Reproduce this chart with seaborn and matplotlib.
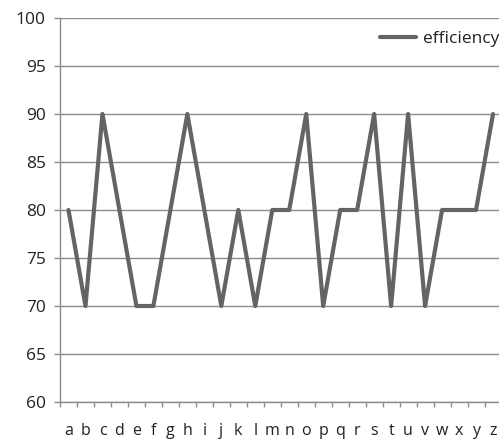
import matplotlib.pyplot as plt
import numpy as np
import pandas as pd
import seaborn as sns
from matplotlib.ticker import FixedLocator

categories = list("abcdefghijklmnopqrstuvwxyz")
efficiency = [80, 70, 90, 80, 70, 70, 80, 90, 80, 70, 80, 70, 80,
              80, 90, 70, 80, 80, 90, 70, 90, 70, 80, 80, 80, 90]
y_ticks = [60, 65, 70, 75, 80, 85, 90, 95, 100]

LINE = "#646464"
GRID = "#8c8c8c"
TEXT = "#222222"

sns.set_style("white")
plt.rcParams["font.family"] = ["Open Sans", "DejaVu Sans"]

df = pd.DataFrame({"letter": categories, "efficiency": efficiency, "pos": np.arange(len(categories))})

fig = plt.figure(figsize=(4.99, 4.41), dpi=100)
ax = fig.add_axes([60 / 499, 1 - 402 / 441, (501.5 - 60) / 499, (402 - 18) / 441])

sns.lineplot(data=df, x="pos", y="efficiency", ax=ax, color=LINE, linewidth=3.0,
             label="efficiency", sort=False)

ax.set_xlim(-0.5, len(categories) - 0.5)
ax.set_ylim(60, 100)
ax.set_yticks(y_ticks)
ax.set_xticks(df["pos"])
ax.set_xticklabels(categories)
ax.xaxis.set_minor_locator(FixedLocator(np.arange(-0.5, len(categories), 1.0)))
ax.set_xlabel("")
ax.set_ylabel("")

ax.yaxis.grid(True, color=GRID, linewidth=1.0)
ax.set_axisbelow(True)
for side in ["top", "right"]:
    ax.spines[side].set_visible(False)
for side in ["left", "bottom"]:
    ax.spines[side].set_color(GRID)
    ax.spines[side].set_linewidth(1.0)

ax.tick_params(axis="y", which="major", left=True, length=4.3, width=1, color=GRID,
               labelsize=12.5, pad=6, labelcolor=TEXT)
ax.tick_params(axis="x", which="major", bottom=True, length=0, labelsize=11.5, pad=15, labelcolor=TEXT)
ax.tick_params(axis="x", which="minor", bottom=True, length=3.6, width=1, color=GRID, direction="out")

leg = ax.legend(loc="center left", bbox_to_anchor=(380 / 499, 1 - 39 / 441),
                bbox_transform=fig.transFigure, frameon=False, fontsize=12.5,
                handlelength=2.1, handletextpad=0.35, borderaxespad=0, borderpad=0)
for t in leg.get_texts():
    t.set_color(TEXT)

fig.savefig("out.png", dpi=100, facecolor="white")
